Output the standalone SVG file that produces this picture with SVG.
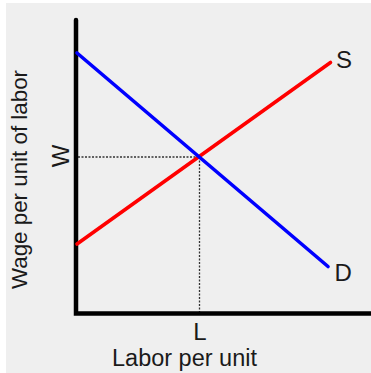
<svg xmlns="http://www.w3.org/2000/svg" width="371" height="373" viewBox="0 0 371 373">
<style>
text{font-family:"Liberation Sans",Arial,sans-serif;fill:#1a1a1a}
.axis{stroke:#000;stroke-width:4.5;fill:none}
.guide{stroke:#333;stroke-width:1.3;stroke-dasharray:2,1.5;fill:none}
.curve{stroke-width:3.6;stroke-linecap:round;fill:none}
</style>
<rect width="371" height="373" fill="#ffffff"/>
<rect x="6" y="3" width="365" height="370" fill="#efefef"/>
<g id="connectors">
<line class="guide" x1="78" y1="157" x2="199.5" y2="157"/>
<line class="guide" x1="199.5" y1="157" x2="199.5" y2="312"/>
<path id="axes" class="axis" d="M76,20 V313.5 H371" stroke-linecap="round"/>
<line id="supply" class="curve" stroke="#ff0000" x1="77" y1="244" x2="330.5" y2="62.5"/>
<line id="demand" class="curve" stroke="#0000ff" x1="77" y1="53" x2="328" y2="266.5"/>
</g>
<g id="label-S"><text x="336" y="68" font-size="24">S</text></g>
<g id="label-D"><text x="334.5" y="280.5" font-size="24">D</text></g>
<g id="label-L"><text x="200" y="339.5" font-size="24" text-anchor="middle">L</text></g>
<g id="label-W"><text transform="translate(69,156) rotate(-90)" font-size="24" text-anchor="middle">W</text></g>
<g id="x-title"><text x="112" y="366" font-size="23" textLength="145" lengthAdjust="spacingAndGlyphs">Labor per unit</text></g>
<g id="y-title"><text transform="translate(26.5,179.5) rotate(-90)" font-size="22" text-anchor="middle" textLength="219" lengthAdjust="spacingAndGlyphs">Wage per unit of labor</text></g>
</svg>
